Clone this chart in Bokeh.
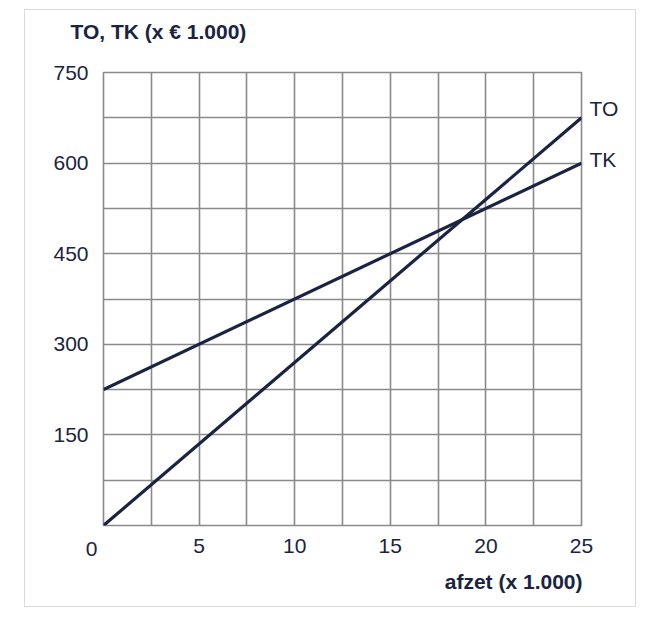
from bokeh.core.properties import value
from bokeh.embed import file_html
from bokeh.models import FixedTicker
from bokeh.plotting import figure
from bokeh.resources import INLINE

# afzet (x 1.000) and totals (x € 1.000)
afzet = [0, 25]
to_values = [0, 675]
tk_values = [225, 600]

x_ticks = [5, 10, 15, 20, 25]
y_ticks = [150, 300, 450, 600, 750]
x_grid = [2.5 * i for i in range(11)]
y_grid = [75 * i for i in range(11)]

series_names = ["TO", "TK"]
series_end = [to_values[-1], tk_values[-1]]

ink = "#1b2342"
grid = "#8a8a8a"
font = "Liberation Sans"

p = figure(
    width=612,
    height=598,
    x_range=(0, 25),
    y_range=(0, 750),
    output_backend="svg",
    toolbar_location=None,
    tools="",
    min_border_left=78,
    min_border_right=56,
    min_border_top=62,
    min_border_bottom=83,
    margin=(9, 0, 0, 24),
    styles={"border": "1px solid #dadada"},
)

p.line(afzet, tk_values, line_color=ink, line_width=3.2)
p.line(afzet, to_values, line_color=ink, line_width=3.2)

# texts outside the frame go on the overlay level so they are not clipped
common = dict(text_color=ink, text_font=value(font), text_font_size="21px",
              level="overlay")

p.text(x=[afzet[-1]] * 2, y=series_end, text=series_names, x_offset=8,
       y_offset=[-9, -4], text_baseline="middle", **common)

# origin label sits left of the corner
p.text(x=[0], y=[0], text=["0"], x_offset=-12, y_offset=23, text_align="center",
       text_baseline="middle", **common)

p.text(x=[0], y=[y_ticks[-1]], text=["TO, TK (x € 1.000)"], x_offset=-33, y_offset=-41,
       text_baseline="middle", text_font_style="bold", **common)
p.text(x=[afzet[-1]], y=[0], text=["afzet (x 1.000)"], x_offset=1, y_offset=56,
       text_align="right", text_baseline="middle", text_font_style="bold", **common)

for ax, ticks in ((p.xaxis, x_ticks), (p.yaxis, y_ticks)):
    ax.ticker = FixedTicker(ticks=ticks)
    ax.axis_line_color = None
    ax.major_tick_line_color = None
    ax.minor_tick_line_color = None
    ax.major_tick_out = 0
    ax.major_tick_in = 0
    ax.major_label_text_color = ink
    ax.major_label_text_font = font
    ax.major_label_text_font_size = "21px"
p.xaxis.major_label_standoff = 13
p.yaxis.major_label_standoff = 15

p.xgrid.ticker = FixedTicker(ticks=x_grid)
p.ygrid.ticker = FixedTicker(ticks=y_grid)
p.grid.grid_line_color = grid
p.grid.grid_line_width = 1.6
p.outline_line_color = grid
p.outline_line_width = 1.6
p.background_fill_color = "white"

open("out.html", "w").write(file_html(p, INLINE))
